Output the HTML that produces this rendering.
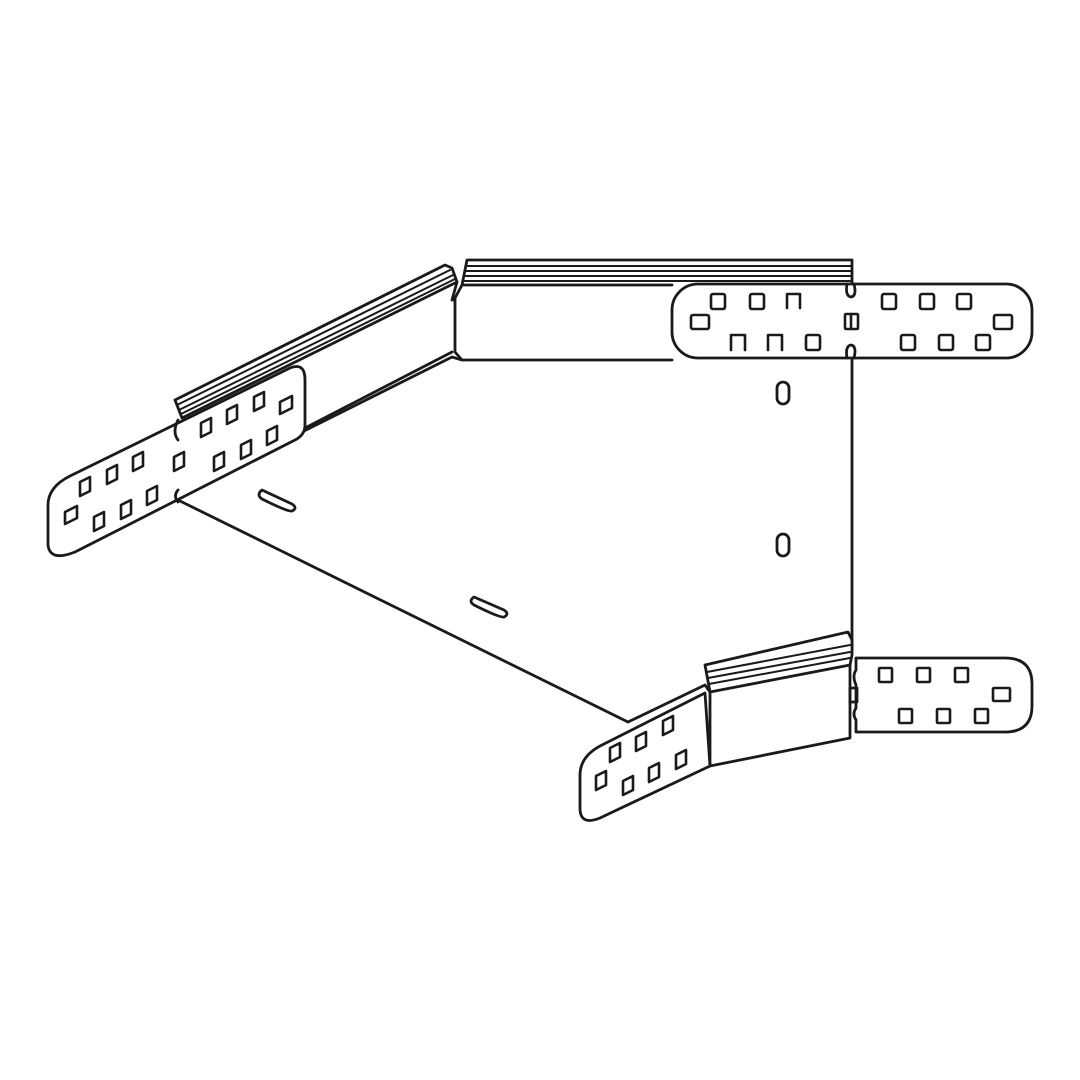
<!DOCTYPE html>
<html><head><style>html,body{margin:0;padding:0;background:#fff}svg{display:block}</style></head>
<body>
<svg width="1080" height="1080" viewBox="0 0 1080 1080" xmlns="http://www.w3.org/2000/svg" fill="none" stroke="#1a1a1a" stroke-width="2.8" stroke-linejoin="round" stroke-linecap="round">
<path d="M178,500 L628,722"/>
<path d="M852,360 L852,650"/>
<path d="M300,433 L452,357 L462,360 L672,360"/>
<path d="M305,428 L452,352"/>
<path d="M262,490 L292,504 Q298,508 292,511 Q288,512 262,499 Q256,495 262,490 Z"/>
<path d="M474,597 L504,610 Q510,614 504,617 Q500,618 474,605 Q468,601 474,597 Z"/>
<rect x="777" y="382" width="12" height="22" rx="6"/>
<rect x="777" y="534" width="12" height="22" rx="6"/>
<path d="M175,400 L445,265 L452,268 L457,282 L182,418 Z"/>
<path d="M177,405 L450,270" stroke-width="2"/>
<path d="M179,410 L453,275" stroke-width="2"/>
<path d="M181,414 L455,279" stroke-width="2"/>
<path d="M457,282 L452,300 L455,300"/>
<path d="M455,298 L455,352 L462,360"/>
<path d="M455,298 L462,285 L672,285"/>
<path d="M462,285 L467,260 L852,260 L852,285"/>
<path d="M466,266 L852,266 M465,271 L852,271 M464,276 L852,276 M463,281 L852,281" stroke-width="2"/>
<path d="M70,476 L290,368 Q305,362 305,380 L305,425 Q305,435 295,440 L75,552 Q50,562 48,545 L48,505 Q48,487 70,476 Z" fill="#fff"/>
<path d="M178,420 Q172,432 178,440 M178,490 Q173,496 178,502"/>
<rect x="672" y="284" width="360" height="74" rx="26" fill="#fff"/>
<path d="M847,284 Q845,296 851,297 Q857,296 854,284 M847,358 Q845,346 851,345 Q857,346 854,358"/>
<path d="M705,665 L848,632 L852,640 L852,655 L850,665 L710,692 Z" fill="#fff"/>
<path d="M707,672 L850,645 M708,678 L850,652 M709,684 L850,658" stroke-width="2"/>
<path d="M710,692 L710,766 L850,738 L850,665"/>
<path d="M628,722 L705,685 L710,692"/>
<path d="M602,745 L705,693 L710,766 L600,818 Q580,826 580,808 L580,775 Q580,756 602,745 Z" fill="#fff"/>
<path d="M856,658 L1005,658 Q1032,658 1032,684 L1032,706 Q1032,732 1005,732 L856,732 L856,720 Q852,714 856,708 L856,685 Q852,676 856,670 Z" fill="#fff"/>
<rect x="850" y="688" width="7" height="14"/>
<g stroke-width="2.6">
<path d="M80,482 l10,-5 v14 l-10,5z M107,470 l10,-5 v14 l-10,5z M133,457 l10,-5 v14 l-10,5z M174,457 l10,-5 v14 l-10,5z M201,423 l10,-5 v14 l-10,5z M227,410 l10,-5 v14 l-10,5z M254,397 l10,-5 v14 l-10,5z M280,402 l12,-6 v12 l-12,6z M65,512 l12,-6 v12 l-12,6z M94,517 l10,-5 v14 l-10,5z M121,505 l10,-5 v14 l-10,5z M147,491 l10,-5 v14 l-10,5z M214,457 l10,-5 v14 l-10,5z M241,445 l10,-5 v14 l-10,5z M267,431 l10,-5 v14 l-10,5z"/>
<rect x="711" y="294" width="14" height="15" rx="2"/>
<rect x="750" y="294" width="14" height="15" rx="2"/>
<path d="M787,308 V294 H800 V308"/>
<rect x="691" y="315" width="18" height="14" rx="2"/>
<path d="M731,350 V335 H745 V350"/>
<path d="M768,350 V335 H782 V350"/>
<rect x="806" y="335" width="14" height="15" rx="2"/>
<rect x="845" y="314" width="13" height="15" rx="1"/><path d="M851,314 V329"/>
<rect x="882" y="294" width="14" height="15" rx="2"/>
<rect x="920" y="294" width="14" height="15" rx="2"/>
<rect x="957" y="294" width="14" height="15" rx="2"/>
<rect x="994" y="315" width="18" height="14" rx="2"/>
<rect x="901" y="335" width="14" height="15" rx="2"/>
<rect x="939" y="335" width="14" height="15" rx="2"/>
<rect x="976" y="335" width="14" height="15" rx="2"/>
<rect x="879" y="668" width="13" height="14" rx="1"/>
<rect x="917" y="668" width="13" height="14" rx="1"/>
<rect x="955" y="668" width="13" height="14" rx="1"/>
<rect x="993" y="688" width="17" height="13" rx="1"/>
<rect x="899" y="709" width="13" height="14" rx="1"/>
<rect x="937" y="709" width="13" height="14" rx="1"/>
<rect x="975" y="709" width="13" height="14" rx="1"/>
<path d="M610,748 l10,-5 v14 l-10,5z M636,737 l10,-5 v14 l-10,5z M663,721 l10,-5 v14 l-10,5z M596,776 l10,-5 v14 l-10,5z M623,781 l10,-5 v14 l-10,5z M649,768 l10,-5 v14 l-10,5z M676,755 l10,-5 v14 l-10,5z"/>
</g>
</svg>
</body></html>
